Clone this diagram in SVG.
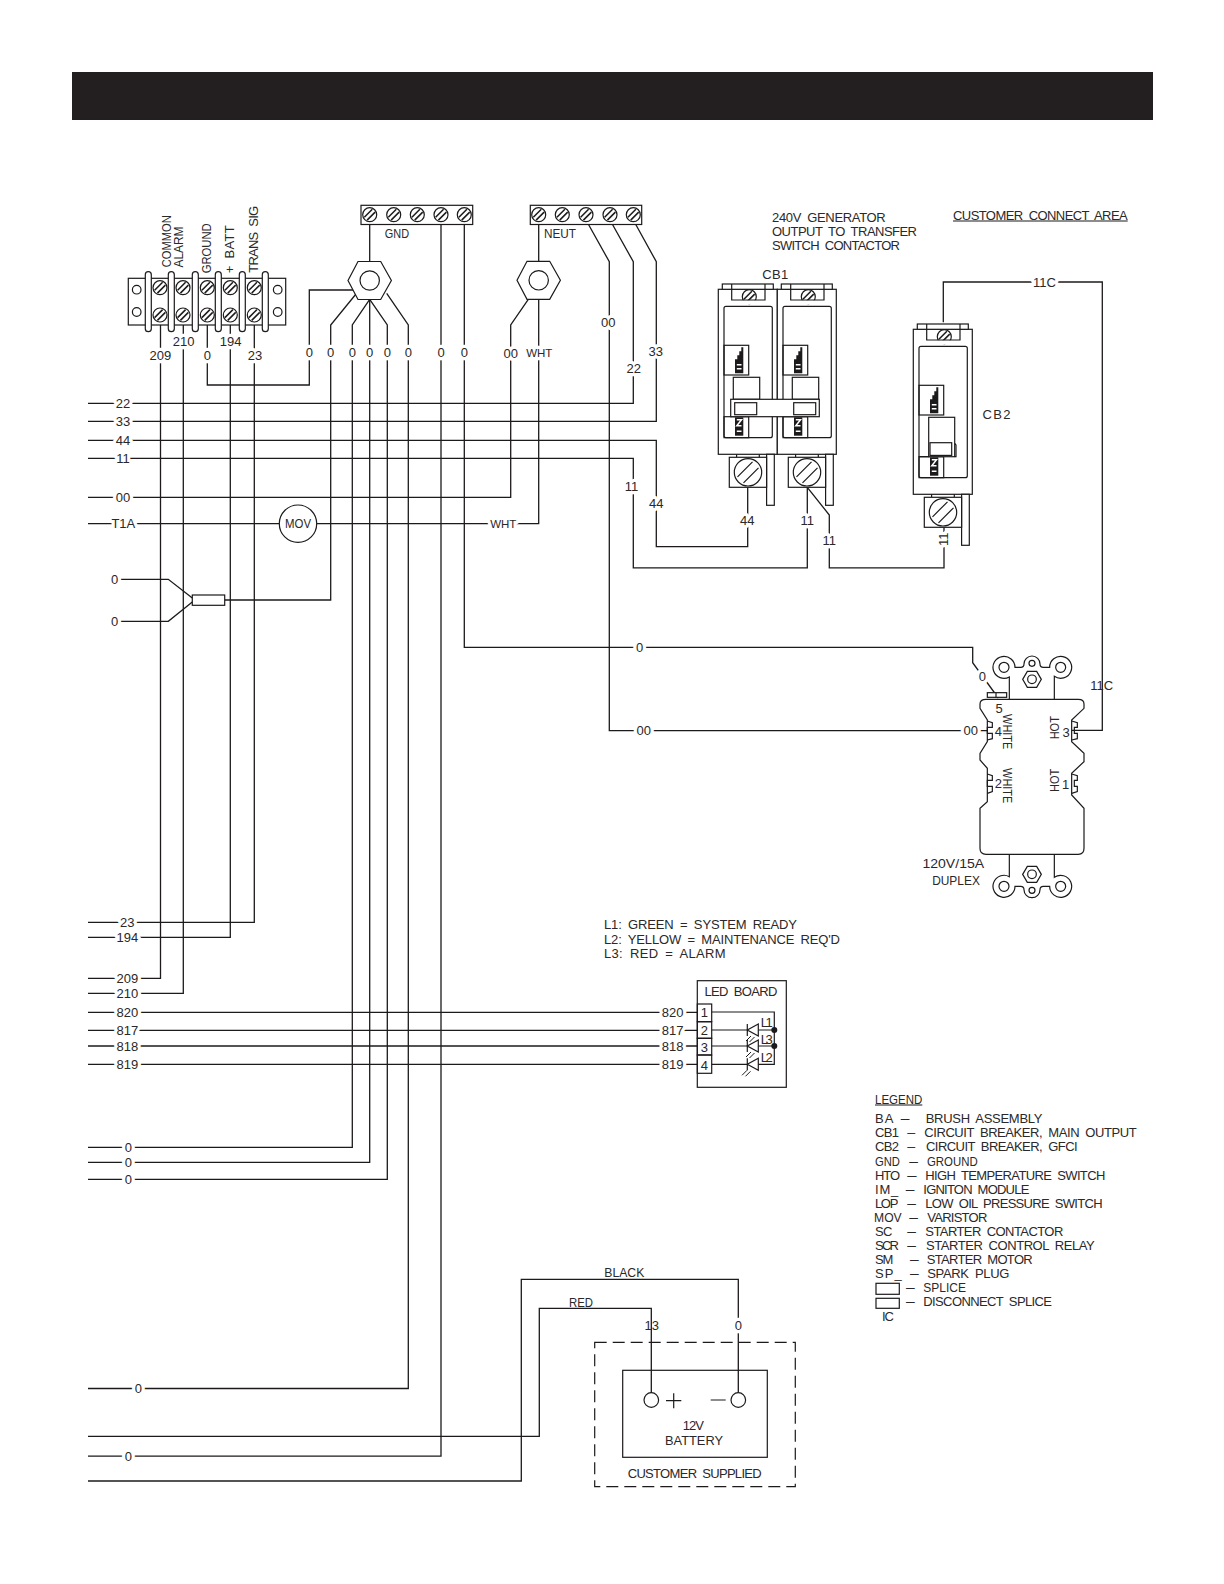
<svg xmlns="http://www.w3.org/2000/svg" xmlns:xlink="http://www.w3.org/1999/xlink" width="1224" height="1584" viewBox="0 0 1224 1584">
<style>
.w{fill:none;stroke:#1c1a1b;stroke-width:1.3;stroke-linejoin:miter}
.o{fill:#fff;stroke:#1c1a1b;stroke-width:1.2}
.n{fill:none;stroke:#1c1a1b;stroke-width:1.2}
.k{fill:#1c1a1b;stroke:none}
.t{font-family:"Liberation Sans",Arial,sans-serif;font-size:13px;fill:#2a2829;text-anchor:middle;dominant-baseline:central;word-spacing:3px}
.h{stroke:#fff;stroke-width:6.5px;paint-order:stroke;stroke-linejoin:round}
.s{font-size:11.5px}
.l{font-family:"Liberation Sans",Arial,sans-serif;font-size:13px;fill:#2a2829;text-anchor:start;dominant-baseline:central;word-spacing:3px}
</style>
<defs>
<g id="sc"><circle class="o" r="7"/><path d="M-5.4 2.6L2.6-5.4M-2.6 5.4L5.4-2.6" fill="none" stroke="#1c1a1b" stroke-width="1.5"/></g>
<g id="scb"><circle class="o" r="13.7"/><path d="M-10.5 4.5L4.5-10.5M-4.5 10.5L10.5-4.5" class="n"/></g>
<g id="hex"><polygon class="o" points="-21.7,0 -11.7,-19 11,-19 21.7,0 11,19 -11.7,19"/><circle class="n" r="9.7"/></g>
<g id="blk">
<polygon class="k" points="6.3,0 8.3,0 8.3,26 0,26 0,12 2.3,12 2.3,8 4.3,8 4.3,4 6.3,4"/>
<path d="M1.8 17.5H6.5M1.8 21.5H6.5" stroke="#fff" stroke-width="1.6"/>
</g>
<g id="blk2">
<rect class="k" width="8.3" height="18.4"/>
<path d="M1.8 2.5H6.5L1.8 8.5H6.5M1.8 14H6.5" fill="none" stroke="#fff" stroke-width="1.5"/>
</g>
<g id="brk">
<rect class="o" width="59" height="165"/>
<rect class="o" x="4" y="-5.3" width="51" height="5.3"/>
<use xlink:href="#sc" href="#sc" transform="translate(31 7.4)"/>
<rect x="10" y="10.9" width="40" height="4" fill="#fff"/>
<path class="n" d="M13.4 -5.3V10.7H46.7V-5.3"/>
<rect class="n" x="5.7" y="17" width="48.3" height="131.4" rx="2"/>
<rect class="n" x="5.7" y="56" width="24.7" height="29.7"/>
<use xlink:href="#blk" href="#blk" transform="translate(16.7 58)"/>
<rect class="n" x="5.7" y="127.4" width="24.7" height="21"/>
<use xlink:href="#blk2" href="#blk2" transform="translate(16.7 128)"/>
<path class="n" d="M18.3 165V168M41 165V168"/>
<rect class="o" x="48.3" y="165" width="7.7" height="51"/>
<rect class="o" x="11" y="168" width="37.3" height="30"/>
<use xlink:href="#scb" href="#scb" transform="translate(29.7 183)"/>
</g>
<path id="ear" d="M328 178V111A33 33 0 1 1 345 82H362Q372 82 372 72A24 24 0 0 1 420 72Q420 82 430 82H449A33 33 0 1 1 463 109V178" fill="none" stroke="#1c1a1b" stroke-width="3.6"/>
<g id="earpart"><circle cx="312" cy="82" r="15" fill="none" stroke="#1c1a1b" stroke-width="3.6"/><circle cx="482" cy="82" r="15" fill="none" stroke="#1c1a1b" stroke-width="3.6"/><circle cx="396" cy="70" r="9" fill="none" stroke="#1c1a1b" stroke-width="3.6"/><polygon points="368,118 382,94 410,94 424,118 410,142 382,142" fill="none" stroke="#1c1a1b" stroke-width="3.6"/><circle cx="396" cy="118" r="13" fill="none" stroke="#1c1a1b" stroke-width="3.6"/></g>
<path id="led" d="M0 -6V6M11 -6L0 0L11 6Z" fill="#fff" stroke="#1c1a1b" stroke-width="1.2"/>
<path id="rays" d="M0 6L-5 11M3.5 7L-1.5 12" fill="none" stroke="#1c1a1b" stroke-width="1"/>
</defs>
<rect width="1224" height="1584" fill="#fff"/>
<rect id="header-bar" x="72" y="72" width="1081" height="48" fill="#231f20"/>

<g id="connectors">
<path class="w" d="M160.5 322V978.3H88"/>
<path class="w" d="M183.3 322V993.3H88"/>
<path class="w" d="M207.3 322V385H309.3V290H353"/>
<path class="w" d="M230.3 322V937.3H88"/>
<path class="w" d="M254.3 322V922.3H88"/>
<path class="w" d="M356 294L330.7 325V600H224.7"/>
<path class="w" d="M369.7 224V262"/>
<path class="w" d="M369.7 299.3L352.3 325V1147.3H88"/>
<path class="w" d="M369.7 299.3V1162.3H88"/>
<path class="w" d="M369.7 299.3L387.3 325V1179.3H88"/>
<path class="w" d="M386.7 293.3L408.3 325V1388.5H88"/>
<path class="w" d="M441 222V1456.2H88"/>
<path class="w" d="M464.3 222V647.3H972.7V662.7L998.3 698"/>
<path class="w" d="M538.7 222V262M538.7 299.3V523.7H88"/>
<path class="w" d="M528.3 299.3L510.7 325V497.3H88"/>
<path class="w" d="M586 220L609.3 261.7V730.6H987.3"/>
<path class="w" d="M610 220L633.3 261.7V403.3H88"/>
<path class="w" d="M633.3 220L656.3 261.7V421.3H88"/>
<path class="w" d="M88 440.3H656.3V546.7H747.7V487.3"/>
<path class="w" d="M88 458.3H633.3V567.9H807.3V487.3"/>
<path class="w" d="M807.3 487.3L829.3 515V567.9H944V527.3"/>
<path class="w" d="M943.3 322.3V282H1102.3V730.3H1071.7"/>
<path class="w" d="M119.3 579.3H168.3L192.3 598M119.3 621.3H168.3L192.3 602"/>
<path class="w" d="M88 1012.3H697.3M88 1030.3H697.3M88 1046H697.3M88 1064.3H697.3"/>
<path class="w" d="M88 1481H521.3V1279.3H738.3V1392.7"/>
<path class="w" d="M88 1436.3H539.3V1308.3H651.3V1392.7"/>
</g>

<g id="terminal-block">
<rect class="o" x="128.3" y="278.3" width="157.4" height="46.7"/>
<circle class="n" cx="136.7" cy="289.7" r="4.3"/><circle class="n" cx="136.7" cy="312" r="4.3"/>
<circle class="n" cx="277.7" cy="289.7" r="4.3"/><circle class="n" cx="277.7" cy="312" r="4.3"/>
<rect class="o" x="145.3" y="271.7" width="6" height="60" rx="3"/><rect class="o" x="168.3" y="271.7" width="6" height="60" rx="3"/><rect class="o" x="192.3" y="271.7" width="6" height="60" rx="3"/><rect class="o" x="215.3" y="271.7" width="6" height="60" rx="3"/><rect class="o" x="239.3" y="271.7" width="6" height="60" rx="3"/><rect class="o" x="262.3" y="271.7" width="6" height="60" rx="3"/>
<use xlink:href="#sc" href="#sc" x="160" y="287.7"/><use xlink:href="#sc" href="#sc" x="183" y="287.7"/><use xlink:href="#sc" href="#sc" x="207.3" y="287.7"/><use xlink:href="#sc" href="#sc" x="230.3" y="287.7"/><use xlink:href="#sc" href="#sc" x="254.3" y="287.7"/>
<use xlink:href="#sc" href="#sc" x="160" y="315"/><use xlink:href="#sc" href="#sc" x="183" y="315"/><use xlink:href="#sc" href="#sc" x="207.3" y="315"/><use xlink:href="#sc" href="#sc" x="230.3" y="315"/><use xlink:href="#sc" href="#sc" x="254.3" y="315"/>
<text class="t" transform="rotate(-90 166.7 241.2)" x="166.7" y="241.2" textLength="52" lengthAdjust="spacingAndGlyphs">COMMON</text>
<text class="t" transform="rotate(-90 178.3 247)" x="178.3" y="247" textLength="41" lengthAdjust="spacingAndGlyphs">ALARM</text>
<text class="t" transform="rotate(-90 206.7 248.3)" x="206.7" y="248.3" textLength="50" lengthAdjust="spacingAndGlyphs">GROUND</text>
<text class="t" transform="rotate(-90 230 249.2)" x="230" y="249.2" textLength="48">+ BATT</text>
<text class="t" transform="rotate(-90 254 239.3)" x="254" y="239.3" textLength="67">TRANS SIG</text>
</g>

<g id="gnd-block">
<rect class="o" x="361" y="205.3" width="111.7" height="19.2"/>
<use xlink:href="#sc" href="#sc" x="369.7" y="214.7"/><use xlink:href="#sc" href="#sc" x="393.7" y="214.7"/><use xlink:href="#sc" href="#sc" x="417.3" y="214.7"/><use xlink:href="#sc" href="#sc" x="441" y="214.7"/><use xlink:href="#sc" href="#sc" x="464.3" y="214.7"/>
<text class="t" x="397" y="233" textLength="24.3" lengthAdjust="spacingAndGlyphs">GND</text>
</g>
<use id="gnd-stud" xlink:href="#hex" href="#hex" x="369.7" y="280.5"/>

<g id="neut-block">
<rect class="o" x="530.3" y="205.3" width="111.4" height="19.2"/>
<use xlink:href="#sc" href="#sc" x="538.7" y="214.7"/><use xlink:href="#sc" href="#sc" x="562.3" y="214.7"/><use xlink:href="#sc" href="#sc" x="586" y="214.7"/><use xlink:href="#sc" href="#sc" x="610" y="214.7"/><use xlink:href="#sc" href="#sc" x="633.3" y="214.7"/>
<text class="t" x="560" y="233" textLength="32" lengthAdjust="spacingAndGlyphs">NEUT</text>
</g>
<use id="neut-stud" xlink:href="#hex" href="#hex" x="538.7" y="280.3"/>

<g id="mov"><circle class="o" cx="298" cy="523.7" r="18.7"/><text class="t" x="298" y="523.7" textLength="26" lengthAdjust="spacingAndGlyphs">MOV</text></g>
<g id="splice"><rect class="o" x="192.3" y="595" width="32.4" height="10.3"/></g>

<g id="cb1">
<use xlink:href="#brk" href="#brk" x="718.3" y="289.3"/>
<use xlink:href="#brk" href="#brk" x="777.3" y="289.3"/>
<rect class="n" x="733.3" y="377.3" width="26.4" height="22"/>
<rect class="n" x="792.3" y="377.3" width="26.4" height="22"/>
<rect class="o" x="730.7" y="399.3" width="88.6" height="17.4"/>
<rect class="n" x="734.7" y="402.7" width="22" height="12"/>
<rect class="n" x="793.7" y="402.7" width="22" height="12"/>
<text class="t" x="775.3" y="274.3" textLength="26" >CB1</text>
</g>

<g id="cb2">
<use xlink:href="#brk" href="#brk" x="913.3" y="329.3"/>
<path class="n" d="M919 456.7H928.7"/>
<rect class="o" x="928.7" y="417.3" width="26" height="39.4"/>
<rect class="n" x="930" y="442.7" width="21.7" height="12.7"/>
<path class="n" d="M954.7 443.5L956 445V456.7H954.7"/>
<text class="t" x="996.4" y="414.3" textLength="28">CB2</text>
</g>

<g id="duplex">
<g transform="translate(900 640) scale(.33333)">
<path d="M262 178H535Q552 178 552 192V205L515 240V305L552 340V365L515 400V465L552 505V625Q552 643 535 643H258Q240 643 240 625V505L262 485V385L240 360V340L262 305V240L240 205V192Q240 178 258 178Z" fill="#fff" stroke="#1c1a1b" stroke-width="3.6"/>
<use xlink:href="#ear" href="#ear"/><use xlink:href="#earpart" href="#earpart"/>
<use xlink:href="#ear" href="#ear" transform="translate(0 821) scale(1 -1)"/><use xlink:href="#earpart" href="#earpart" transform="translate(0 821) scale(1 -1)"/>
<rect x="262" y="158" width="58" height="14" fill="#fff" stroke="#1c1a1b" stroke-width="3.6"/>
<path d="M288 158V172" stroke="#1c1a1b" stroke-width="3.6"/>
<path id="tl" d="M262 243L277 248V262H262V280H277V296L262 300" fill="none" stroke="#1c1a1b" stroke-width="3.6"/>
<path d="M262 402L277 407V421H262V439H277V455L262 460" fill="none" stroke="#1c1a1b" stroke-width="3.6"/>
<path d="M515 243L532 248V262H523V280H532V296L515 300" fill="none" stroke="#1c1a1b" stroke-width="3.6"/>
<path d="M515 402L532 407V421H523V439H532V455L515 460" fill="none" stroke="#1c1a1b" stroke-width="3.6"/>
</g>
<text class="t" x="999" y="708">5</text>
<text class="t" x="998.3" y="731">4</text>
<text class="t" x="1066" y="732.7">3</text>
<text class="t" x="998.3" y="783.3">2</text>
<text class="t" x="1065.7" y="784.3">1</text>
<text class="t" transform="rotate(90 1007.3 731.7)" x="1007.3" y="731.7" textLength="35.3" lengthAdjust="spacingAndGlyphs">WHITE</text>
<text class="t" transform="rotate(90 1007.3 785.7)" x="1007.3" y="785.7" textLength="35.3" lengthAdjust="spacingAndGlyphs">WHITE</text>
<text class="t" transform="rotate(-90 1055 727.7)" x="1055" y="727.7" textLength="23.3" lengthAdjust="spacingAndGlyphs">HOT</text>
<text class="t" transform="rotate(-90 1055 780.3)" x="1055" y="780.3" textLength="23.3" lengthAdjust="spacingAndGlyphs">HOT</text>
<text class="t" x="953.3" y="863.3" textLength="61.7" lengthAdjust="spacingAndGlyphs">120V/15A</text>
<text class="t" x="956" y="880" textLength="47.7" lengthAdjust="spacingAndGlyphs">DUPLEX</text>
</g>

<g id="led-board">
<rect class="o" x="697.3" y="980.7" width="89" height="106.6"/>
<text class="t" x="741" y="991" textLength="73">LED BOARD</text>
<rect class="n" x="697.3" y="1004" width="14.4" height="17.7"/><rect class="n" x="697.3" y="1021.7" width="14.4" height="16.6"/><rect class="n" x="697.3" y="1038.3" width="14.4" height="16.7"/><rect class="n" x="697.3" y="1055" width="14.4" height="18.3"/>
<path class="n" d="M711.7 1012H774.3V1064.3H711.7M711.7 1030H774.3M711.7 1046H774.3"/>
<use xlink:href="#led" href="#led" x="747.3" y="1030"/><use xlink:href="#rays" href="#rays" x="751" y="1030"/>
<use xlink:href="#led" href="#led" x="747.3" y="1046"/><use xlink:href="#rays" href="#rays" x="751" y="1046"/>
<use xlink:href="#led" href="#led" x="747.3" y="1064.3"/><use xlink:href="#rays" href="#rays" x="747" y="1064.3"/>
<circle class="k" cx="774.3" cy="1030" r="3"/><circle class="k" cx="774.3" cy="1046" r="3"/>
<text class="t" x="704.3" y="1012.5">1</text><text class="t" x="704.3" y="1030">2</text><text class="t" x="704.3" y="1047.3">3</text><text class="t" x="704.3" y="1065">4</text>
<text class="t" x="766.7" y="1022.8" textLength="12">L1</text><text class="t" x="766.7" y="1039.5" textLength="12">L3</text><text class="t" x="766.7" y="1057.5" textLength="12">L2</text>
</g>

<g id="battery">
<rect x="594.7" y="1342.3" width="200.6" height="144.4" fill="none" stroke="#1c1a1b" stroke-width="1.2" stroke-dasharray="12 6"/>
<rect class="n" x="622.7" y="1370.3" width="144.6" height="87"/>
<circle class="o" cx="651.3" cy="1400" r="7.3"/><circle class="o" cx="738.3" cy="1400" r="7.3"/>
<path class="n" d="M666 1400.7H681.3M673.7 1393.3V1408.3M710.7 1400H725.7"/>
<text class="t" x="693.3" y="1425" textLength="21">12V</text>
<text class="t" x="694" y="1440" textLength="58" lengthAdjust="spacingAndGlyphs">BATTERY</text>
<text class="t" x="694.7" y="1473.3" textLength="134">CUSTOMER SUPPLIED</text>
</g>

<g id="labels">
<text class="t h" x="160.3" y="355">209</text><text class="t h" x="183.7" y="341">210</text><text class="t h" x="207.3" y="355">0</text><text class="t h" x="230.7" y="341">194</text><text class="t h" x="255" y="355.7">23</text>
<text class="t h" x="309.3" y="352.7">0</text><text class="t h" x="330.7" y="352.7">0</text><text class="t h" x="352.3" y="352.7">0</text><text class="t h" x="369.7" y="352.7">0</text><text class="t h" x="387.3" y="352.7">0</text><text class="t h" x="408.3" y="352.7">0</text><text class="t h" x="441" y="352.7">0</text><text class="t h" x="464.3" y="352.7">0</text>
<text class="t h" x="510.7" y="353.3">00</text><text class="t h s" x="539.3" y="353.3">WHT</text>
<text class="t h" x="608.3" y="322.3">00</text><text class="t h" x="633.7" y="368.3">22</text><text class="t h" x="655.7" y="351.3">33</text>
<text class="t h" x="123" y="403.3">22</text><text class="t h" x="123" y="421.3">33</text><text class="t h" x="123" y="440.3">44</text><text class="t h" x="123" y="458.3">11</text><text class="t h" x="123" y="497.3">00</text><text class="t h" x="123.3" y="523.7">T1A</text>
<text class="t h s" x="503.3" y="523.7">WHT</text>
<text class="t h" x="631.5" y="486.7">11</text><text class="t h" x="656.3" y="503.3">44</text>
<text class="t h" x="747.3" y="520.7">44</text><text class="t h" x="807.3" y="520.7">11</text><text class="t h" x="829.3" y="540.7">11</text>
<text class="t h" transform="rotate(-90 944 539.3)" x="944" y="539.3">11</text>
<text class="t h" x="1044.5" y="282">11C</text><text class="t" x="1101.7" y="685">11C</text>
<text class="t h" x="114.7" y="579.3">0</text><text class="t h" x="114.7" y="621.3">0</text>
<text class="t h" x="639.6" y="647.5">0</text><text class="t h" x="982.3" y="676">0</text>
<text class="t h" x="643.7" y="730.6">00</text><text class="t h" x="970.7" y="730.6">00</text>
<text class="t h" x="127.3" y="922.3">23</text><text class="t h" x="127.3" y="937.3">194</text><text class="t h" x="127.3" y="978.3">209</text><text class="t h" x="127.3" y="993.3">210</text>
<text class="t h" x="127.3" y="1012.3">820</text><text class="t h" x="127.3" y="1030.3">817</text><text class="t h" x="127.3" y="1046">818</text><text class="t h" x="127.3" y="1064.3">819</text>
<text class="t h" x="672.7" y="1012.3">820</text><text class="t h" x="672.7" y="1030.3">817</text><text class="t h" x="672.7" y="1046">818</text><text class="t h" x="672.7" y="1064.3">819</text>
<text class="t h" x="128.3" y="1147.3">0</text><text class="t h" x="128.3" y="1162.3">0</text><text class="t h" x="128.3" y="1179.3">0</text>
<text class="t h" x="138.4" y="1388.5">0</text><text class="t h" x="128.3" y="1456.2">0</text>
<text class="t" x="624.3" y="1272.3" textLength="40" lengthAdjust="spacingAndGlyphs">BLACK</text>
<text class="t" x="581" y="1302" textLength="24" lengthAdjust="spacingAndGlyphs">RED</text>
<text class="t" x="651.7" y="1325.3">13</text><text class="t h" x="738.3" y="1325">0</text>
</g>

<g id="notes">
<text class="l" x="772" y="217.3" textLength="113.7">240V GENERATOR</text>
<text class="l" x="772" y="231.7" textLength="145">OUTPUT TO TRANSFER</text>
<text class="l" x="772" y="245.7" textLength="128">SWITCH CONTACTOR</text>
<text class="l" x="953" y="215" textLength="174.7">CUSTOMER CONNECT AREA</text>
<path class="n" d="M953 221H1127.7"/>
<text class="l" x="604" y="924.6" textLength="193">L1: GREEN = SYSTEM READY</text>
<text class="l" x="604" y="939" textLength="236">L2: YELLOW = MAINTENANCE REQ'D</text>
<text class="l" x="604" y="953.8" textLength="121.5">L3: RED = ALARM</text>
</g>

<g id="legend">
<text class="l" x="875" y="1099" textLength="47.3" lengthAdjust="spacingAndGlyphs">LEGEND</text><path class="n" d="M875 1105H922.3"/>
<text class="l" x="875" y="1118.3" textLength="18.3">BA</text><text class="l" x="900.7" y="1118.3" textLength="8.7" lengthAdjust="spacingAndGlyphs">–</text><text class="l" x="925.7" y="1118.3" textLength="116.7">BRUSH ASSEMBLY</text>
<text class="l" x="875" y="1132.3" textLength="24">CB1</text><text class="l" x="907.3" y="1132.3" textLength="8" lengthAdjust="spacingAndGlyphs">–</text><text class="l" x="924.3" y="1132.3" textLength="212.3">CIRCUIT BREAKER, MAIN OUTPUT</text>
<text class="l" x="875" y="1146.7" textLength="24">CB2</text><text class="l" x="907.3" y="1146.7" textLength="8" lengthAdjust="spacingAndGlyphs">–</text><text class="l" x="926" y="1146.7" textLength="151.7">CIRCUIT BREAKER, GFCI</text>
<text class="l" x="875" y="1161" textLength="25" lengthAdjust="spacingAndGlyphs">GND</text><text class="l" x="909.3" y="1161" textLength="8.7" lengthAdjust="spacingAndGlyphs">–</text><text class="l" x="927" y="1161" textLength="50.7" lengthAdjust="spacingAndGlyphs">GROUND</text>
<text class="l" x="875" y="1175" textLength="25">HTO</text><text class="l" x="907.3" y="1175" textLength="9.3" lengthAdjust="spacingAndGlyphs">–</text><text class="l" x="925.3" y="1175" textLength="180">HIGH TEMPERATURE SWITCH</text>
<text class="l" x="875" y="1189.3" textLength="23.3">IM_</text><text class="l" x="905.7" y="1189.3" textLength="8.7" lengthAdjust="spacingAndGlyphs">–</text><text class="l" x="923.3" y="1189.3" textLength="106">IGNITON MODULE</text>
<text class="l" x="875" y="1203.3" textLength="23.3">LOP</text><text class="l" x="907.3" y="1203.3" textLength="8.7" lengthAdjust="spacingAndGlyphs">–</text><text class="l" x="925.3" y="1203.3" textLength="177.3">LOW OIL PRESSURE SWITCH</text>
<text class="l" x="874" y="1217.7" textLength="27.7" lengthAdjust="spacingAndGlyphs">MOV</text><text class="l" x="909.3" y="1217.7" textLength="8.7" lengthAdjust="spacingAndGlyphs">–</text><text class="l" x="927.3" y="1217.7" textLength="60">VARISTOR</text>
<text class="l" x="875" y="1231.7" textLength="17.3">SC</text><text class="l" x="907.3" y="1231.7" textLength="8.7" lengthAdjust="spacingAndGlyphs">–</text><text class="l" x="925.3" y="1231.7" textLength="138">STARTER CONTACTOR</text>
<text class="l" x="875" y="1245.7" textLength="24">SCR</text><text class="l" x="907.3" y="1245.7" textLength="8.7" lengthAdjust="spacingAndGlyphs">–</text><text class="l" x="926" y="1245.7" textLength="168.7">STARTER CONTROL RELAY</text>
<text class="l" x="875" y="1259.7" textLength="18.3">SM</text><text class="l" x="910" y="1259.7" textLength="8.7" lengthAdjust="spacingAndGlyphs">–</text><text class="l" x="926.7" y="1259.7" textLength="106">STARTER MOTOR</text>
<text class="l" x="875" y="1273.7" textLength="26.7">SP_</text><text class="l" x="910" y="1273.7" textLength="8.7" lengthAdjust="spacingAndGlyphs">–</text><text class="l" x="927.3" y="1273.7" textLength="82">SPARK PLUG</text>
<rect class="n" x="876" y="1283.3" width="23.3" height="11"/><text class="l" x="906" y="1287.7" textLength="8.7" lengthAdjust="spacingAndGlyphs">–</text><text class="l" x="923.3" y="1287.7" textLength="42.7" lengthAdjust="spacingAndGlyphs">SPLICE</text>
<rect class="n" x="876" y="1298.3" width="23.3" height="10"/><text class="l" x="906" y="1301.7" textLength="8.7" lengthAdjust="spacingAndGlyphs">–</text><text class="l" x="923.3" y="1301.7" textLength="128.7">DISCONNECT SPLICE</text>
<text class="t" x="888" y="1316.7" textLength="12">IC</text>
</g>
</svg>
